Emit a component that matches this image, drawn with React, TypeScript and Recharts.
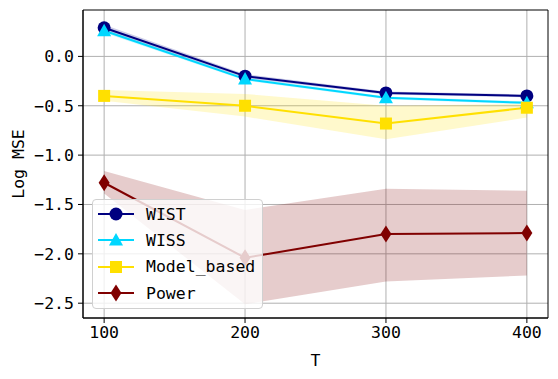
import {
  Area,
  ComposedChart,
  CartesianGrid,
  Line,
  ReferenceArea,
  XAxis,
  YAxis,
} from "recharts";

const T = [100, 200, 300, 400];

const wist = [0.29, -0.2, -0.37, -0.4];
const wistLo = [0.26, -0.22, -0.385, -0.415];
const wistHi = [0.32, -0.18, -0.355, -0.385];

const wiss = [0.26, -0.23, -0.42, -0.47];
const wissLo = [0.24, -0.245, -0.435, -0.485];
const wissHi = [0.28, -0.215, -0.405, -0.455];

const modelBased = [-0.4, -0.5, -0.68, -0.52];
const modelLo = [-0.45, -0.61, -0.84, -0.62];
const modelHi = [-0.34, -0.38, -0.5, -0.48];

const power = [-1.28, -2.04, -1.8, -1.79];
const powerLo = [-1.39, -2.51, -2.28, -2.22];
const powerHi = [-1.16, -1.555, -1.34, -1.36];

const yTicks = [0, -0.5, -1, -1.5, -2, -2.5];

const NAVY = "#000080";
const CYAN = "#00d7ff";
const GOLD = "#ffe000";
const MAROON = "#800000";
const FONT = "'DejaVu Sans Mono', monospace";
const FS = 16.5;

const data = T.map((t, i) => ({
  t,
  wist: wist[i],
  wistBand: [wistLo[i], wistHi[i]],
  wiss: wiss[i],
  wissBand: [wissLo[i], wissHi[i]],
  model: modelBased[i],
  modelBand: [modelLo[i], modelHi[i]],
  power: power[i],
  powerBand: [powerLo[i], powerHi[i]],
}));

type Shape = "circle" | "triangle" | "square" | "diamond";

function marker(shape: Shape, cx: number, cy: number, color: string, key?: string | number) {
  switch (shape) {
    case "circle":
      return <circle key={key} cx={cx} cy={cy} r={6.5} fill={color} />;
    case "triangle":
      return (
        <polygon
          key={key}
          points={`${cx},${cy - 7} ${cx - 7},${cy + 5.5} ${cx + 7},${cy + 5.5}`}
          fill={color}
        />
      );
    case "square":
      return <rect key={key} x={cx - 6} y={cy - 6} width={12} height={12} fill={color} />;
    default:
      return (
        <polygon
          key={key}
          points={`${cx},${cy - 8.5} ${cx + 5.5},${cy} ${cx},${cy + 8.5} ${cx - 5.5},${cy}`}
          fill={color}
        />
      );
  }
}

const dotFor = (shape: Shape, color: string) => (p: any) =>
  marker(shape, p.cx, p.cy, color, p.index);

const legendItems: { name: string; color: string; shape: Shape }[] = [
  { name: "WIST", color: NAVY, shape: "circle" },
  { name: "WISS", color: CYAN, shape: "triangle" },
  { name: "Model_based", color: GOLD, shape: "square" },
  { name: "Power", color: MAROON, shape: "diamond" },
];

function LegendBox() {
  return (
    <div
      style={{
        position: "absolute",
        left: 92,
        top: 199,
        width: 169,
        height: 108,
        background: "rgba(255,255,255,0.8)",
        border: "1px solid #d0d0d0",
        borderRadius: 4,
        fontFamily: FONT,
        fontSize: FS,
        color: "#000",
      }}
    >
      {legendItems.map((it, i) => (
        <div
          key={it.name}
          style={{ position: "absolute", left: 4, top: 4 + i * 26.4, height: 20, display: "flex", alignItems: "center" }}
        >
          <svg width={38} height={20}>
            <line x1={1} y1={10} x2={37} y2={10} stroke={it.color} strokeWidth={2} />
            {marker(it.shape, 19, 10, it.color)}
          </svg>
          <span style={{ marginLeft: 11 }}>{it.name}</span>
        </div>
      ))}
    </div>
  );
}

export default function App() {
  return (
    <div style={{ position: "absolute", left: 0, top: 0, width: 558, height: 379, background: "#fff" }}>
      <ComposedChart
        width={558}
        height={379}
        data={data}
        margin={{ top: 10, right: 10, bottom: 0, left: 0 }}
      >
        <CartesianGrid stroke="#b0b0b0" strokeWidth={1} verticalValues={T} horizontalValues={yTicks} />
        <XAxis
          dataKey="t"
          type="number"
          domain={[85, 415]}
          ticks={T}
          height={61}
          stroke="#000"
          tickLine={{ stroke: "#000" }}
          tickSize={5}
          tickMargin={3}
          tick={{ fill: "#000", fontFamily: FONT, fontSize: FS }}
          label={{ value: "T", position: "insideBottom", offset: 13, fill: "#000", fontFamily: FONT, fontSize: FS }}
        />
        <YAxis
          type="number"
          domain={[-2.65, 0.47]}
          ticks={yTicks}
          width={83}
          stroke="#000"
          tickSize={5}
          tickMargin={4}
          tickFormatter={(v: number) => v.toFixed(1).replace("-", "\u2212")}
          tick={{ fill: "#000", fontFamily: FONT, fontSize: FS }}
          label={{
            value: "Log MSE",
            angle: -90,
            position: "insideLeft",
            offset: 18,
            fill: "#000",
            fontFamily: FONT,
            fontSize: FS,
            style: { textAnchor: "middle" },
          }}
        />
        <Area type="linear" dataKey="wistBand" stroke="none" fill={NAVY} fillOpacity={0.2} isAnimationActive={false} activeDot={false} />
        <Area type="linear" dataKey="wissBand" stroke="none" fill={CYAN} fillOpacity={0.2} isAnimationActive={false} activeDot={false} />
        <Area type="linear" dataKey="modelBand" stroke="none" fill={GOLD} fillOpacity={0.2} isAnimationActive={false} activeDot={false} />
        <Area type="linear" dataKey="powerBand" stroke="none" fill={MAROON} fillOpacity={0.2} isAnimationActive={false} activeDot={false} />
        <Line type="linear" dataKey="wist" stroke={NAVY} strokeWidth={2} dot={dotFor("circle", NAVY)} activeDot={false} isAnimationActive={false} />
        <Line type="linear" dataKey="wiss" stroke={CYAN} strokeWidth={2} dot={dotFor("triangle", CYAN)} activeDot={false} isAnimationActive={false} />
        <Line type="linear" dataKey="model" stroke={GOLD} strokeWidth={2} dot={dotFor("square", GOLD)} activeDot={false} isAnimationActive={false} />
        <Line type="linear" dataKey="power" stroke={MAROON} strokeWidth={2} dot={dotFor("diamond", MAROON)} activeDot={false} isAnimationActive={false} />
        <ReferenceArea x1={85} x2={415} y1={-2.65} y2={0.47} fill="none" stroke="#000" strokeWidth={1} ifOverflow="visible" />
      </ComposedChart>
      <LegendBox />
    </div>
  );
}
